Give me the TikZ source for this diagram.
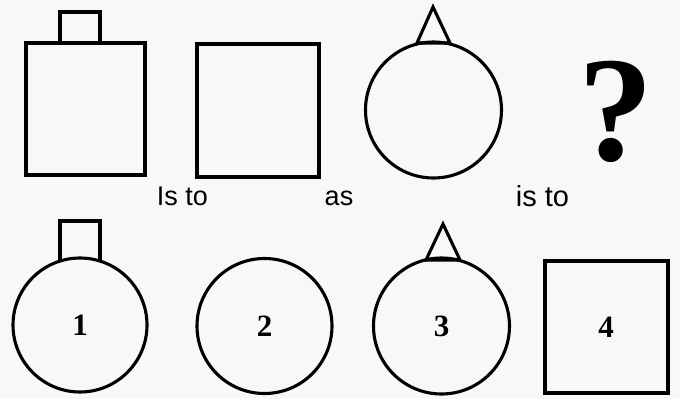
\documentclass[tikz,border=0pt]{standalone}
\usepackage{fontspec}
\newfontfamily\lblfont{Liberation Sans}
\newfontfamily\numfont{Liberation Serif}
\definecolor{paper}{RGB}{248,248,246}
\begin{document}
\begin{tikzpicture}[x=1pt,y=-1pt,
  outline/.style={draw=black,line width=3.1pt,line join=miter},
  word/.style={font=\lblfont\fontsize{27}{27}\selectfont,anchor=base,inner sep=0pt},
  digit/.style={font=\numfont\bfseries\fontsize{31}{31}\selectfont,inner sep=0pt}]
\fill[paper] (0,0) rectangle (680,399);
\useasboundingbox (0,0) rectangle (680,399);
% top row
\draw[outline] (26,43) rectangle (145,175);
\draw[outline] (60,43) -- (60,12) -- (100,12) -- (100,43);
\draw[outline] (197,44) rectangle (319,177);
\draw[outline] (433.5,110) circle (68);
\draw[outline] (417,43) -- (433,7) -- (450,43) -- cycle;
\node[font=\numfont\bfseries\fontsize{150}{150}\selectfont,inner sep=0pt] (q) at (616,112) {?};
% words
\node[word] (w1) at (182.5,205) {Is to};
\node[word] (w2) at (339,205) {as};
\node[word,font=\lblfont\fontsize{29}{29}\selectfont] (w3) at (542.5,206) {is to};
% bottom row
\draw[outline] (80,325) circle (67);
\draw[outline] (60,261) -- (60,221) -- (100,221) -- (100,261);
\draw[outline] (264.5,326) circle (67.5);
\draw[outline] (441.5,326) circle (68);
\draw[outline] (426,260) -- (443,224) -- (460,260) -- cycle;
\draw[outline] (545,261) rectangle (668,393);
\node[digit] (n1) at (80,325) {1};
\node[digit] (n2) at (264.5,326) {2};
\node[digit] (n3) at (441.5,326) {3};
\node[digit] (n4) at (606,327) {4};
\end{tikzpicture}
\end{document}
